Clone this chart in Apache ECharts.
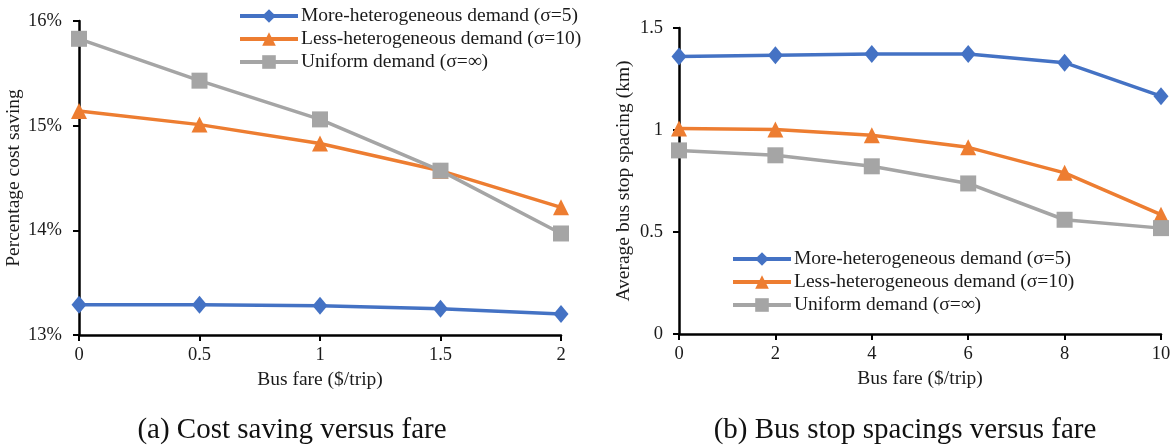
<!DOCTYPE html>
<html><head><meta charset="utf-8">
<script src="https://cdn.jsdelivr.net/npm/echarts@6/dist/echarts.min.js"></script>
<style>html,body{margin:0;padding:0;background:#fff}#c{width:1176px;height:445px}</style>
</head><body><div id="c"></div>
<script>
const seriesNames = ['More-heterogeneous demand (σ=5)', 'Less-heterogeneous demand (σ=10)', 'Uniform demand (σ=∞)'];
const fareA = [0, 0.5, 1, 1.5, 2];
const savingMore = [13.29, 13.29, 13.28, 13.25, 13.20];
const savingLess = [15.14, 15.01, 14.83, 14.57, 14.22];
const savingUniform = [15.83, 15.43, 15.06, 14.57, 13.97];
const fareB = [0, 2, 4, 6, 8, 10];
const spacingMore = [1.36, 1.367, 1.373, 1.372, 1.33, 1.166];
const spacingLess = [1.007, 1.003, 0.974, 0.915, 0.79, 0.585];
const spacingUniform = [0.90, 0.876, 0.822, 0.738, 0.56, 0.519];
const captionA = '(a) Cost saving versus fare';
const captionB = '(b) Bus stop spacings versus fare';

const FONT = '"Liberation Serif", "Times New Roman", serif';
const colors = ['#4472C4', '#ED7D31', '#A5A5A5'];
const symbols = ['diamond', 'triangle', 'rect'];
const symSizes = [[15, 18], 16, 16];

function zip(xs, ys) { return xs.map((x, i) => [x, ys[i]]); }
function mk(i, idx, xs, ys) {
  return {
    name: seriesNames[i], type: 'line', xAxisIndex: idx, yAxisIndex: idx,
    data: zip(xs, ys), symbol: symbols[i], symbolSize: symSizes[i],
    showAllSymbol: true, animation: false,
    itemStyle: { color: colors[i] }, lineStyle: { color: colors[i], width: 3.5 }
  };
}
const axisCommon = {
  axisLine: { show: true, onZero: false, lineStyle: { color: '#000', width: 2.5 } },
  axisTick: { show: true, inside: false, length: 6, lineStyle: { color: '#000', width: 2 } },
  splitLine: { show: false },
  axisLabel: { fontFamily: FONT, fontSize: 18.5, color: '#1a1a1a' },
  nameTextStyle: { fontFamily: FONT, fontSize: 19.5, color: '#1a1a1a' },
  nameLocation: 'middle'
};
const legendCommon = {
  orient: 'vertical', itemWidth: 58, itemHeight: 17, itemGap: 3,
  lineStyle: { width: 4 },
  textStyle: { fontFamily: FONT, fontSize: 19.5, color: '#1a1a1a', padding: [0, 0, 0, -2] },
  data: seriesNames
};
const chart = echarts.init(document.getElementById('c'), null, { renderer: 'canvas' });
chart.setOption({
  animation: false,
  grid: [
    { left: 79, right: 615, top: 21, bottom: 110 },
    { left: 679, right: 15, top: 28, bottom: 111 }
  ],
  xAxis: [
    Object.assign({}, axisCommon, { gridIndex: 0, type: 'value', min: 0, max: 2, interval: 0.5, name: 'Bus fare ($/trip)', nameGap: 31, axisLabel: Object.assign({}, axisCommon.axisLabel, { margin: 11 }) }),
    Object.assign({}, axisCommon, { gridIndex: 1, type: 'value', min: 0, max: 10, interval: 2, name: 'Bus fare ($/trip)', nameGap: 33, axisLabel: Object.assign({}, axisCommon.axisLabel, { margin: 11 }) })
  ],
  yAxis: [
    Object.assign({}, axisCommon, { gridIndex: 0, type: 'value', min: 13, max: 16, interval: 1, name: 'Percentage cost saving', nameGap: 52, axisLabel: Object.assign({}, axisCommon.axisLabel, { margin: 17, formatter: '{value}%' }) }),
    Object.assign({}, axisCommon, { gridIndex: 1, type: 'value', min: 0, max: 1.5, interval: 0.5, name: 'Average bus stop spacing (km)', nameGap: 45, axisLabel: Object.assign({}, axisCommon.axisLabel, { margin: 16 }) })
  ],
  legend: [
    Object.assign({}, legendCommon, { left: 233, top: 1 }),
    Object.assign({}, legendCommon, { left: 726, top: 244 })
  ],
  series: [
    mk(0, 0, fareA, savingMore), mk(1, 0, fareA, savingLess), mk(2, 0, fareA, savingUniform),
    mk(0, 1, fareB, spacingMore), mk(1, 1, fareB, spacingLess), mk(2, 1, fareB, spacingUniform)
  ],
  graphic: [
    { type: 'text', x: 292, y: 430, style: { text: captionA, font: '29px ' + FONT, fill: '#111', align: 'center', verticalAlign: 'middle' } },
    { type: 'text', x: 905, y: 430, style: { text: captionB, font: '29px ' + FONT, fill: '#111', align: 'center', verticalAlign: 'middle' } }
  ]
});
</script></body></html>
